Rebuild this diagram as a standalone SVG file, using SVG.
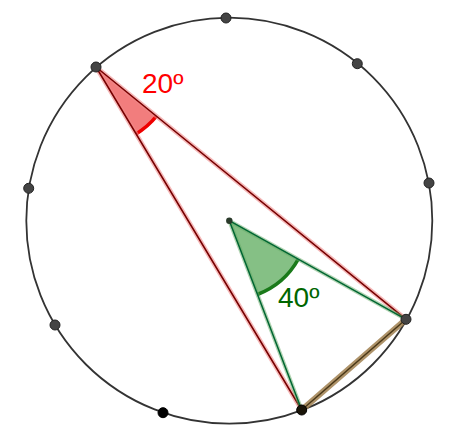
<svg xmlns="http://www.w3.org/2000/svg" width="457" height="444" viewBox="0 0 457 444">
<style>
.halo-red{stroke:#e88;stroke-opacity:0.6;stroke-width:4.5;fill:none;stroke-linecap:round}
.core-red{stroke:#700;stroke-width:1.5;fill:none;stroke-linecap:round}
.halo-green{stroke:#6a6;stroke-opacity:0.5;stroke-width:4;fill:none;stroke-linecap:round}
.core-green{stroke:#063;stroke-width:1.5;fill:none;stroke-linecap:round}
.halo-brown{stroke:#a08050;stroke-opacity:0.85;stroke-width:6;fill:none;stroke-linecap:round}
.core-brown{stroke:#4a3818;stroke-width:1.5;fill:none;stroke-linecap:round}
.pt{fill:#444;stroke:#222;stroke-width:1}
.lbl{font-family:"Liberation Sans",Arial,sans-serif;font-size:28px}
</style>
<rect width="457" height="444" fill="#fff"/>
<g id="circle">
<circle cx="229.3" cy="220.7" r="203" fill="none" stroke="#333" stroke-width="1.8"/>
</g>
<g id="angle-red">
<path d="M96,67 L156.5,116.2 A78,78 0 0 1 136.1,133.9 Z" fill="#f06666" fill-opacity="0.85"/>
<path d="M156.5,116.2 A78,78 0 0 1 136.1,133.9" fill="none" stroke="#e00" stroke-width="3.5"/>
</g>
<g id="angle-green">
<path d="M229.3,220.7 L298.3,259.2 A79,79 0 0 1 257.5,294.5 Z" fill="#3a9a3a" fill-opacity="0.62"/>
<path d="M298.3,259.2 A79,79 0 0 1 257.5,294.5" fill="none" stroke="#1a7a1a" stroke-width="3.5"/>
</g>
<g id="connectors">
<line class="halo-red" x1="96" y1="67" x2="406" y2="319.3"/>
<line class="halo-red" x1="96" y1="67" x2="301.7" y2="410"/>
<line class="core-red" x1="96" y1="67" x2="406" y2="319.3"/>
<line class="core-red" x1="96" y1="67" x2="301.7" y2="410"/>
<line class="halo-green" x1="229.3" y1="220.7" x2="406" y2="319.3"/>
<line class="halo-green" x1="229.3" y1="220.7" x2="301.7" y2="410"/>
<line class="core-green" x1="229.3" y1="220.7" x2="406" y2="319.3"/>
<line class="core-green" x1="229.3" y1="220.7" x2="301.7" y2="410"/>
<line class="halo-brown" x1="406" y1="319.3" x2="301.7" y2="410"/>
<line class="core-brown" x1="406" y1="319.3" x2="301.7" y2="410"/>
</g>
<g id="points">
<circle class="pt" cx="96" cy="67" r="5"/>
<circle class="pt" cx="226" cy="18" r="5"/>
<circle class="pt" cx="357.3" cy="63.7" r="5"/>
<circle class="pt" cx="429" cy="183" r="5"/>
<circle class="pt" cx="406" cy="319.3" r="5" fill="#4a3a20"/>
<circle cx="301.7" cy="410" r="5" fill="#1a1408" stroke="#000"/>
<circle cx="163" cy="412.7" r="5" fill="#000" stroke="#000"/>
<circle class="pt" cx="55" cy="325" r="5"/>
<circle class="pt" cx="28.7" cy="188.3" r="5"/>
<circle cx="229.3" cy="220.7" r="3.2" fill="#2a3a2a"/>
</g>
<g id="labels">
<text class="lbl" x="142" y="93" fill="#f00">20º</text>
<text class="lbl" x="278" y="307" fill="#060">40º</text>
</g>
</svg>
